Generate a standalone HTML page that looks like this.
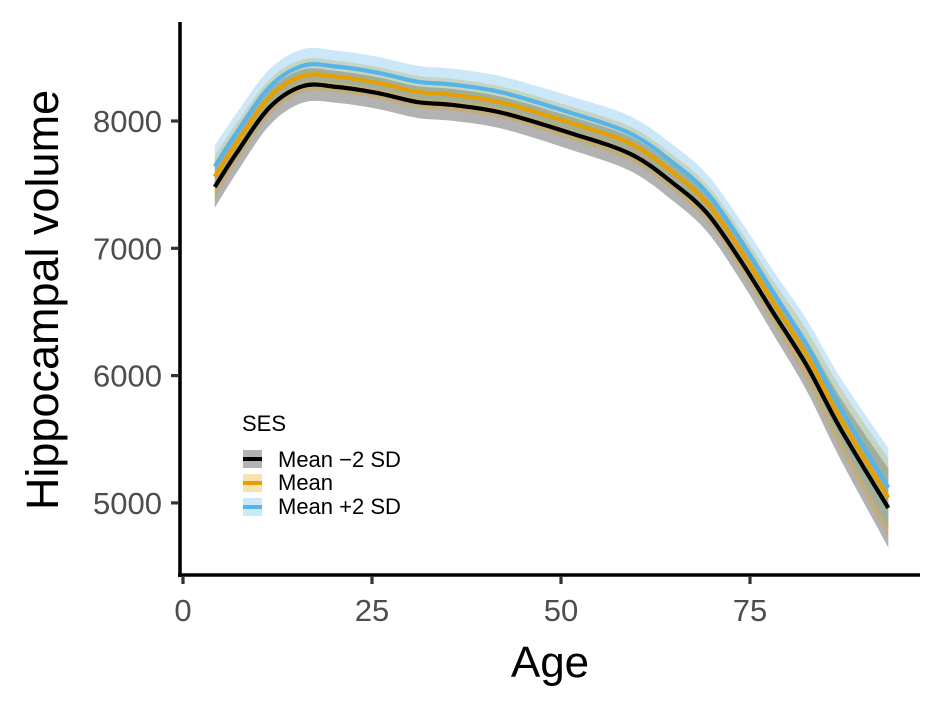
<!DOCTYPE html>
<html><head><meta charset="utf-8"><style>
body{margin:0;background:#fff}
svg{display:block;font-family:"Liberation Sans",Arial,sans-serif}
</style></head><body>
<svg id="chart" width="942" height="708">
<g id="bands"></g>
<g id="lines"></g>
<g id="axes"></g>
<text x="550" y="677" font-size="44" text-anchor="middle" fill="#000">Age</text>
<text transform="translate(58,300) rotate(-90)" font-size="45" text-anchor="middle" fill="#000">Hippocampal volume</text>
<g>
<text x="242" y="431" font-size="22" fill="#000">SES</text>
<g>
<rect x="243" y="450" width="19" height="18" fill="#b3b3b3"/><rect x="243" y="457" width="19" height="4" fill="#000"/>
<text x="278" y="467" font-size="22" fill="#000">Mean −2 SD</text></g>
<g>
<rect x="243" y="474" width="19" height="18" fill="#f7e2b3"/><rect x="243" y="481" width="19" height="4" fill="#E69F00"/>
<text x="278" y="490" font-size="22" fill="#000">Mean</text></g>
<g>
<rect x="243" y="498" width="19" height="18" fill="#cce9f8"/><rect x="243" y="505" width="19" height="4" fill="#56B4E9"/>
<text x="278" y="514" font-size="22" fill="#000">Mean +2 SD</text></g>
</g>
</svg>
<script>
const ages = [4.2,7.1,11.5,15.9,20.4,25.7,31,35.7,42.3,51.2,59.2,64.8,69.3,73.7,78.1,82.5,86.9,93.3];
const lowSES = [7482,7749,8110,8275,8267,8220,8149,8126,8063,7906,7741,7513,7277,6908,6492,6080,5590,4960];
const meanSES = [7562,7829,8190,8355,8347,8300,8229,8206,8143,7986,7821,7593,7357,6988,6572,6160,5670,5040];
const highSES = [7642,7909,8270,8435,8427,8380,8309,8286,8223,8066,7901,7673,7437,7068,6652,6240,5750,5120];
const bandSE = [165,155,140,130,125,125,125,125,125,130,135,140,145,155,170,200,240,310];
const xTicks = [0,25,50,75];
const yTicks = [5000,6000,7000,8000];

const NS="http://www.w3.org/2000/svg";
const xs = v => 183 + v*7.56;
const ys = v => 121 + (8000-v)*0.1273;

function spline(pts){
  let d = "M"+pts[0][0]+","+pts[0][1];
  for(let i=0;i<pts.length-1;i++){
    const p0=pts[Math.max(0,i-1)],p1=pts[i],p2=pts[i+1],p3=pts[Math.min(pts.length-1,i+2)];
    const c1=[p1[0]+(p2[0]-p0[0])/6,p1[1]+(p2[1]-p0[1])/6];
    const c2=[p2[0]-(p3[0]-p1[0])/6,p2[1]-(p3[1]-p1[1])/6];
    d+=" C"+c1[0]+","+c1[1]+" "+c2[0]+","+c2[1]+" "+p2[0]+","+p2[1];
  }
  return d;
}
function bandPath(vals){
  const up=ages.map((a,i)=>[xs(a),ys(vals[i]+bandSE[i])]);
  const lo=ages.map((a,i)=>[xs(a),ys(vals[i]-bandSE[i])]).reverse();
  const d1=spline(up), d2=spline(lo).replace(/^M/,"L");
  return d1+" "+d2+" Z";
}
const series=[[lowSES,"#000","low"],[meanSES,"#E69F00","mean"],[highSES,"#56B4E9","high"]];
const bands=document.getElementById("bands"), lines=document.getElementById("lines");
series.forEach(s=>{
  const p=document.createElementNS(NS,"path");
  p.setAttribute("d",bandPath(s[0]));
  p.setAttribute("fill",s[1]);p.setAttribute("fill-opacity","0.3");
  
  
  bands.appendChild(p);
});
series.forEach(s=>{
  const p=document.createElementNS(NS,"path");
  p.setAttribute("d",spline(ages.map((a,i)=>[xs(a),ys(s[0][i])])));
  p.setAttribute("fill","none");p.setAttribute("stroke",s[1]);p.setAttribute("stroke-width","4.2");
  
  
  lines.appendChild(p);
});
const axes=document.getElementById("axes");
function el(tag,attrs,txt){const e=document.createElementNS(NS,tag);for(const k in attrs)e.setAttribute(k,attrs[k]);if(txt!==undefined)e.textContent=txt;axes.appendChild(e);return e;}
const ya=el("line",{x1:180,y1:22,x2:180,y2:577,stroke:"#000","stroke-width":3.6});


const xa=el("line",{x1:178,y1:575,x2:920,y2:575,stroke:"#000","stroke-width":3.6});


xTicks.forEach(t=>{
  const tk=el("line",{x1:xs(t),y1:576,x2:xs(t),y2:584,stroke:"#333","stroke-width":3.2});
  
  
  const lb=el("text",{x:xs(t),y:621,"font-size":31,"text-anchor":"middle",fill:"#4d4d4d"},String(t));
  
  
});
yTicks.forEach(t=>{
  const tk=el("line",{x1:171,y1:ys(t),x2:179,y2:ys(t),stroke:"#333","stroke-width":3.2});
  
  
  const lb=el("text",{x:162,y:ys(t)+11,"font-size":31,"text-anchor":"end",fill:"#4d4d4d"},String(t));
  
  
});
</script>
</body></html>
